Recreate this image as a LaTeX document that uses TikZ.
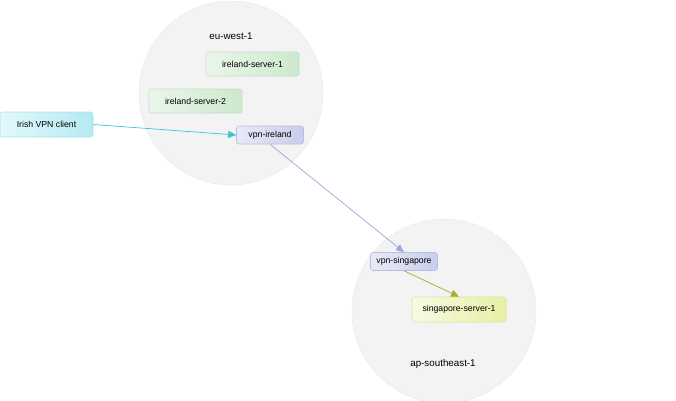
\documentclass[tikz,border=0pt]{standalone}
\usepackage{fontspec}
\setmainfont{Liberation Sans}
\usetikzlibrary{arrows.meta}
\definecolor{regionfill}{HTML}{F3F3F3}
\definecolor{regionline}{HTML}{EBEBEB}
\definecolor{greenA}{HTML}{EAF6EA}
\definecolor{greenB}{HTML}{CDE8CD}
\definecolor{greenline}{HTML}{C3E0C3}
\definecolor{cyanA}{HTML}{E2F8FB}
\definecolor{cyanB}{HTML}{B5EAF2}
\definecolor{cyanline}{HTML}{A8E2EC}
\definecolor{blueA}{HTML}{E9EAF7}
\definecolor{blueB}{HTML}{C9CDEB}
\definecolor{blueline}{HTML}{B8BDE2}
\definecolor{yellowA}{HTML}{F7FAE4}
\definecolor{yellowB}{HTML}{E8EFA4}
\definecolor{yellowline}{HTML}{DDE59A}
\definecolor{cyanarrow}{HTML}{3CC3DA}
\definecolor{bluearrow}{HTML}{9DA5DB}
\definecolor{olivearrow}{HTML}{A8AE22}
\begin{document}
\begin{tikzpicture}[x=1pt, y=-1pt,
    font=\fontsize{8.7}{10}\selectfont,
    region/.style={fill=regionfill, draw=regionline, line width=0.5pt},
    regionlabel/.style={font=\fontsize{9.8}{11}\selectfont},
    box/.style={rounded corners=2.5pt, line width=0.6pt, inner sep=0pt},
    server/.style={box, draw=greenline, left color=greenA, right color=greenB, minimum width=93pt, minimum height=24pt},
    client/.style={box, draw=cyanline, left color=cyanA, right color=cyanB, minimum width=93pt, minimum height=25pt},
    vpn/.style={box, draw=blueline, left color=blueA, right color=blueB, minimum width=67pt, minimum height=18pt},
    sgserver/.style={box, draw=yellowline, left color=yellowA, right color=yellowB, minimum width=94pt, minimum height=25pt},
    link/.style={-{Triangle[width=7pt, length=8pt]}, line width=0.7pt}]
  \useasboundingbox (0,0) rectangle (676,400);

  % regions
  \draw [region] (231, 93) circle [radius = 92];
  \draw [region] (444, 311) circle [radius = 92];
  \node [regionlabel] (euwest) at (231, 36) {eu-west-1};
  \node [regionlabel] (apsoutheast) at (443, 364) {ap-southeast-1};

  % nodes
  \node [server] (irl1) at (252.5, 64) {ireland-server-1};
  \node [server] (irl2) at (195.5, 101) {ireland-server-2};
  \node [client] (client) at (46.5, 124.5) {Irish VPN client};
  \node [vpn] (vpnirl) at (270, 135) {vpn-ireland};
  \node [vpn] (vpnsg) at (404, 261.5) {vpn-singapore};
  \node [sgserver] (sg1) at (459, 309.5) {singapore-server-1};

  % links
  \draw [link, cyanarrow] (client.east) -- (vpnirl.west);
  \draw [link, bluearrow] (vpnirl.south) -- (vpnsg.north);
  \draw [link, olivearrow] (vpnsg.south) -- (sg1.north);
\end{tikzpicture}
\end{document}
